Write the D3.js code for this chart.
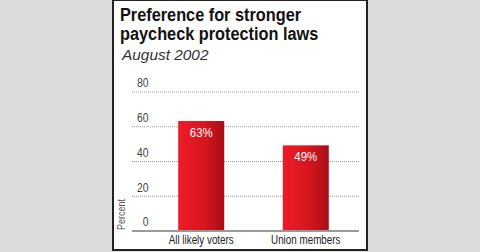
<!DOCTYPE html>
<html>
<head>
<meta charset="utf-8">
<script src="https://cdn.jsdelivr.net/npm/d3@7"></script>
<style>
  html, body { margin: 0; padding: 0; background: #dcdcdc; }
  svg { display: block; }
  text { font-family: "Liberation Sans", Arial, sans-serif; }
</style>
</head>
<body>
<svg width="480" height="252"></svg>
<script>
//-- data --//
const categories = ["All likely voters", "Union members"];
const values = [63, 49];
const yTicks = [0, 20, 40, 60, 80];
const titleLines = ["Preference for stronger", "paycheck protection laws"];
const subtitle = "August 2002";

const svg = d3.select("svg");

// squeeze text to a condensed look: width = natural width * k
const condense = (sel, k) => sel.each(function () {
    const w = this.getComputedTextLength();
    d3.select(this)
        .attr("textLength", w * k)
        .attr("lengthAdjust", "spacingAndGlyphs");
});

const x = d3.scaleBand()
    .domain(categories)
    .range([150, 357])
    .paddingInner(0.56)
    .paddingOuter(0.27);

const y = d3.scaleLinear()
    .domain([0, 80])
    .range([230.5, 91.5]);

// gradient for bars
const grad = svg.append("defs").append("linearGradient")
    .attr("id", "barGrad")
    .attr("x1", "0%").attr("x2", "100%");
grad.append("stop").attr("offset", "0%").attr("stop-color", "#ec1c26");
grad.append("stop").attr("offset", "55%").attr("stop-color", "#d81620");
grad.append("stop").attr("offset", "100%").attr("stop-color", "#a70e16");

//-- panel --//
svg.append("rect")
    .attr("x", 113).attr("y", 0)
    .attr("width", 254).attr("height", 250)
    .attr("fill", "#fff")
    .attr("stroke", "#222")
    .attr("stroke-width", 2);

//-- title --//
svg.append("g")
    .selectAll("text")
    .data(titleLines)
    .join("text")
    .attr("x", 120)
    .attr("y", (d, i) => 21 + i * 18.7)
    .attr("font-size", 18)
    .attr("font-weight", "bold")
    .attr("fill", "#111")
    .text(d => d)
    .call(condense, 0.905);

svg.append("text")
    .attr("x", 122)
    .attr("y", 60.3)
    .attr("font-size", 14)
    .attr("font-style", "italic")
    .attr("fill", "#333")
    .text(subtitle)
    .call(condense, 1.1);

//-- grid --//
svg.append("g")
    .selectAll("line")
    .data(yTicks.filter(d => d > 0))
    .join("line")
    .attr("x1", 132).attr("x2", 359)
    .attr("y1", d => y(d) + 0.5).attr("y2", d => y(d) + 0.5)
    .attr("stroke", "#999")
    .attr("stroke-dasharray", "1,1");

//-- y axis labels --//
const yAxis = g => g
    .attr("transform", "translate(148.5,0)")
    .call(d3.axisLeft(y).tickValues(yTicks).tickSize(0))
    .call(g => g.select(".domain").remove())
    .call(g => g.selectAll(".tick text")
        .attr("x", 0)
        .attr("dy", "-0.36em")
        .attr("font-size", 13)
        .attr("fill", "#444")
        .call(condense, 0.8));
svg.append("g").attr("font-family", null).call(yAxis);

svg.append("text")
    .attr("transform", "translate(125,214.5) rotate(-90)")
    .attr("text-anchor", "middle")
    .attr("font-size", 10.5)
    .attr("fill", "#555")
    .text("Percent")
    .call(condense, 0.85);

//-- bars --//
svg.append("g")
    .selectAll("rect")
    .data(values)
    .join("rect")
    .attr("x", (d, i) => x(categories[i]))
    .attr("y", d => y(d))
    .attr("width", x.bandwidth())
    .attr("height", d => y(0) - y(d))
    .attr("fill", "url(#barGrad)");

svg.append("g")
    .selectAll("text")
    .data(values)
    .join("text")
    .attr("x", (d, i) => x(categories[i]) + x.bandwidth() / 2)
    .attr("y", d => y(d) + 15.5)
    .attr("text-anchor", "middle")
    .attr("font-size", 13)
    .attr("fill", "#fff")
    .text(d => d + "%")
    .call(condense, 0.88);

//-- baseline --//
svg.append("line")
    .attr("x1", 132).attr("x2", 359)
    .attr("y1", y(0) + 0.5).attr("y2", y(0) + 0.5)
    .attr("stroke", "#999")
    .attr("stroke-width", 2);

//-- x labels --//
svg.append("g")
    .selectAll("text")
    .data(categories)
    .join("text")
    .attr("x", d => x(d) + x.bandwidth() / 2)
    .attr("y", 244)
    .attr("text-anchor", "middle")
    .attr("font-size", 12)
    .attr("fill", "#222")
    .text(d => d)
    .call(condense, 0.82);
</script>
</body>
</html>
